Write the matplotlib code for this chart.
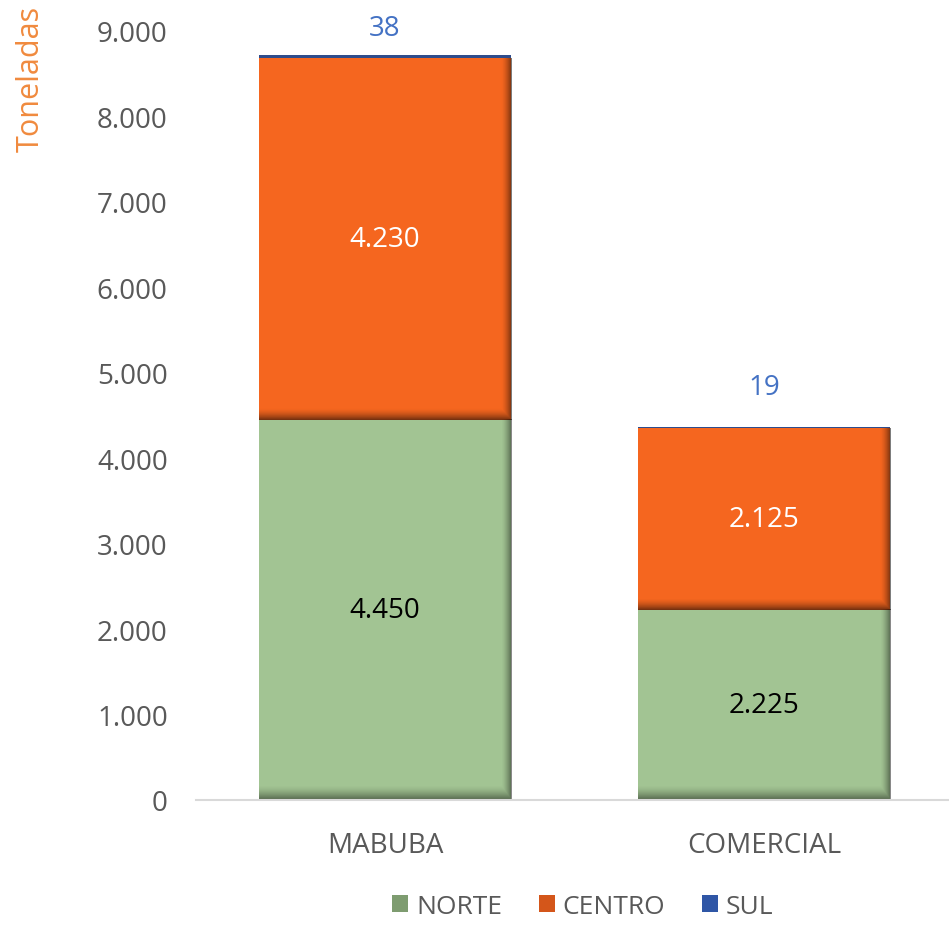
import numpy as np
import matplotlib
matplotlib.use("Agg")
import matplotlib.pyplot as plt
from matplotlib.patches import Patch

categories = ["MABUBA", "COMERCIAL"]
norte = [4450, 2225]
centro = [4230, 2125]
sul = [38, 19]
series_names = ["NORTE", "CENTRO", "SUL"]
yticks = [0, 1000, 2000, 3000, 4000, 5000, 6000, 7000, 8000, 9000]

col_norte = "#A2C493"
col_centro = "#F5661F"
col_sul = "#2E4C8C"
gray = "#595959"

plt.rcParams['font.family'] = ['Open Sans', 'DejaVu Sans']

def fmt(v):
    return f"{v:,.0f}".replace(",", ".")

fig = plt.figure(figsize=(9.49, 9.29), dpi=100)
ax = fig.add_axes([195.5/949, 128/929, 758/949, 769/929])
ax.set_xlim(-0.5, 1.5)
ax.set_ylim(0, 9000)

x = np.arange(len(categories))
w = 0.667

def shade(x0, x1, y0, y1, amax=0.55, rw=11, bw=13):
    (px0, py0) = ax.transData.transform((x0, y0))
    (px1, py1) = ax.transData.transform((x1, y1))
    W = max(int(round(px1 - px0)), 2)
    H = max(int(round(py1 - py0)), 2)
    xs = np.arange(W) + 0.5
    ys = np.arange(H) + 0.5  # from top
    ar = np.clip((xs - (W - rw)) / rw, 0, 1) ** 1.6
    ab = np.clip((ys - (H - bw)) / bw, 0, 1) ** 1.6
    A = np.maximum(ar[None, :], ab[:, None]) * amax
    img = np.zeros((H, W, 4))
    img[..., 3] = A
    ax.imshow(img, extent=(x0, x1, y0, y1), aspect='auto', interpolation='bilinear', zorder=3)

ax.bar(x, norte, w, color=col_norte, zorder=2)
ax.bar(x, centro, w, bottom=norte, color=col_centro, zorder=2)
bottom3 = [a + b for a, b in zip(norte, centro)]
ax.bar(x, sul, w, bottom=bottom3, color=col_sul, zorder=2)

for i in range(len(categories)):
    shade(x[i] - w/2, x[i] + w/2, 0, norte[i], amax=0.5, bw=15)
    shade(x[i] - w/2, x[i] + w/2, norte[i], bottom3[i], amax=0.55, bw=12)

ax.set_xlim(-0.5, 1.5)
ax.set_ylim(0, 9000)

for i in range(len(categories)):
    ax.text(x[i], norte[i] / 2, fmt(norte[i]), ha='center', va='center', fontsize=20, color='black', zorder=5)
    ax.text(x[i], norte[i] + centro[i] / 2, fmt(centro[i]), ha='center', va='center', fontsize=20, color='white', zorder=5)
    top = bottom3[i] + sul[i]
    ax.text(x[i], min(top + 470, 9030), fmt(sul[i]), ha='center', va='center', fontsize=20, color='#4472C4', zorder=5, clip_on=False)

ax.set_yticks(yticks)
ax.set_yticklabels([fmt(v) for v in yticks])
ax.set_xticks(x)
ax.set_xticklabels(categories)
ax.tick_params(axis='y', length=0, pad=20, labelsize=20, labelcolor=gray)
ax.tick_params(axis='x', length=0, pad=22, labelsize=20, labelcolor=gray)
for s in ['top', 'right', 'left']:
    ax.spines[s].set_visible(False)
ax.spines['bottom'].set_color('#D9D9D9')
ax.spines['bottom'].set_linewidth(1.5)
ax.spines['bottom'].set_zorder(4)

fig.text(31/949, 1 - 6/929, "Toneladas", rotation=90, ha='center', va='top', fontsize=22, color='#F08A3E')

handles = [Patch(facecolor="#7E9C70", edgecolor='none'),
           Patch(facecolor="#D4561A", edgecolor='none'),
           Patch(facecolor="#2F56A6", edgecolor='none')]
fig.legend(handles, series_names, loc='lower center', bbox_to_anchor=(583/949, -0.016), ncol=3,
           frameon=False, fontsize=19, labelcolor=gray, handlelength=0.6, handleheight=0.6,
           handletextpad=0.3, columnspacing=1.4)

fig.savefig("out.png", dpi=100)
